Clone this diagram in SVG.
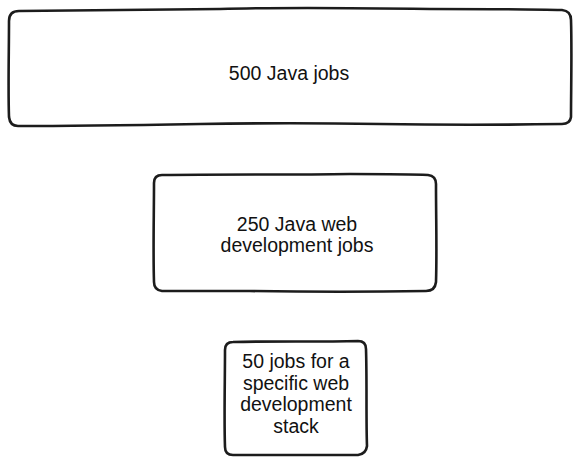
<svg xmlns="http://www.w3.org/2000/svg" width="573" height="457" viewBox="0 0 573 457">
  <style>
    .box { fill: #ffffff; stroke: #1c1c1c; stroke-width: 2.6; stroke-linejoin: round; stroke-linecap: round; }
    .label { font-family: "Liberation Sans", Arial, Helvetica, sans-serif; font-size: 19.5px; fill: #111111; text-anchor: middle; }
  </style>
  <rect width="573" height="457" fill="#ffffff"/>

  <g id="java-jobs">
    <path class="box" d="M 9,21 Q 9,11 19,11 C 80,10 150,10 220,9 C 290,7 360,8 430,9 C 490,9 530,9 562,10 Q 571,11 571,20 C 572,50 571,90 571,117 Q 570,124 562,124 C 500,125 440,125 380,124 C 320,123 260,123 200,124 C 140,125 80,126 18,126 Q 10,126 9,117 C 8,90 9,50 9,21 Z"/>
    <text class="label" x="289" y="80">500 Java jobs</text>
  </g>

  <g id="java-web-jobs">
    <path class="box" d="M 154,183 Q 154,175 162,175 C 220,174 290,175 350,174 C 390,174 410,174 428,175 Q 436,176 436,184 C 436,220 437,250 436,282 Q 435,291 426,291 C 370,292 310,292 250,291 C 210,291 180,291 162,291 Q 154,290 154,282 C 153,250 154,215 154,183 Z"/>
    <text class="label" x="297" y="231">250 Java web</text>
    <text class="label" x="297" y="252">development jobs</text>
  </g>

  <g id="stack-jobs">
    <path class="box" d="M 225,350 Q 225,342 233,342 C 270,341 320,342 358,341 Q 366,341 366,349 C 367,380 366,420 367,446 Q 366,454 358,455 C 320,455 270,455 233,455 Q 225,455 225,447 C 224,420 225,380 225,350 Z"/>
    <text class="label" x="296" y="368">50 jobs for a</text>
    <text class="label" x="296" y="390">specific web</text>
    <text class="label" x="296" y="411">development</text>
    <text class="label" x="296" y="433">stack</text>
  </g>
</svg>
